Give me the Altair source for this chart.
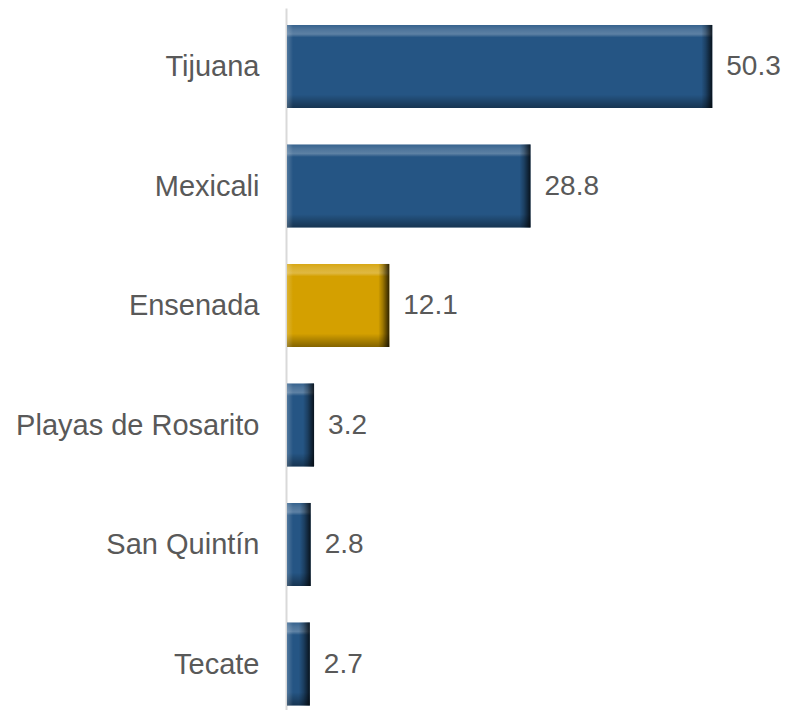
import altair as alt
import pandas as pd

cities = ["Tijuana", "Mexicali", "Ensenada", "Playas de Rosarito", "San Quintín", "Tecate"]
values = [50.3, 28.8, 12.1, 3.2, 2.8, 2.7]
highlight = "Ensenada"

df = pd.DataFrame({"city": cities, "value": values})

FONT = "Liberation Sans"
BLUE = "#255584"
GOLD = "#d4a000"

ysc = alt.Scale(domain=cities, paddingInner=0.305, paddingOuter=0.0897, align=0.79, round=False)
xsc = alt.Scale(domain=[0, 55], nice=False, zero=True)

y_axis = alt.Axis(title=None, labelFontSize=29, labelColor="#595959", labelFont=FONT,
                  ticks=False, domainColor="#d9d9d9", domainWidth=2, labelPadding=27,
                  grid=False, offset=1, labelLimit=400, labelOffset=1)

base = alt.Chart(df)

bars = base.mark_bar().encode(
    y=alt.Y("city:N", scale=ysc, sort=cities, axis=y_axis),
    x=alt.X("value:Q", scale=xsc, axis=None),
    fill=alt.condition(alt.datum.city == highlight, alt.value(GOLD), alt.value(BLUE)),
)

vgrad = {
    "gradient": "linear", "x1": 0, "x2": 0, "y1": 0, "y2": 1,
    "stops": [
        {"offset": 0.0, "color": "rgba(255,255,255,0.08)"},
        {"offset": 0.05, "color": "rgba(255,255,255,0.18)"},
        {"offset": 0.11, "color": "rgba(255,255,255,0.26)"},
        {"offset": 0.15, "color": "rgba(255,255,255,0.0)"},
        {"offset": 0.84, "color": "rgba(0,0,0,0.0)"},
        {"offset": 0.90, "color": "rgba(0,0,0,0.15)"},
        {"offset": 1.0, "color": "rgba(0,0,0,0.38)"},
    ],
}
vover = base.mark_bar(fill=vgrad).encode(
    y=alt.Y("city:N", scale=ysc, sort=cities),
    x=alt.X("value:Q", scale=xsc),
)

hgrad = {
    "gradient": "linear", "x1": 0, "x2": 1, "y1": 0, "y2": 0,
    "stops": [
        {"offset": 0.0, "color": "rgba(0,0,0,0.0)"},
        {"offset": 0.4, "color": "rgba(0,0,0,0.25)"},
        {"offset": 1.0, "color": "rgba(0,0,0,0.78)"},
    ],
}
rover = base.mark_bar(fill=hgrad, xOffset=-11).encode(
    y=alt.Y("city:N", scale=ysc, sort=cities),
    x=alt.X("value:Q", scale=xsc),
    x2="value:Q",
)

lgrad = {
    "gradient": "linear", "x1": 0, "x2": 1, "y1": 0, "y2": 0,
    "stops": [
        {"offset": 0.0, "color": "rgba(255,255,255,0.2)"},
        {"offset": 1.0, "color": "rgba(255,255,255,0.0)"},
    ],
}
lover = base.transform_calculate(zero="0").mark_bar(fill=lgrad, x2Offset=6).encode(
    y=alt.Y("city:N", scale=ysc, sort=cities),
    x=alt.X("zero:Q", scale=xsc),
    x2="zero:Q",
)

labels = base.mark_text(align="left", baseline="middle", dx=14, dy=1, fontSize=28,
                        font=FONT, color="#595959").encode(
    y=alt.Y("city:N", scale=ysc, sort=cities),
    x=alt.X("value:Q", scale=xsc),
    text=alt.Text("value:Q", format=".1f"),
)

chart = alt.layer(bars, vover, rover, lover, labels).properties(
    width=465, height=702,
    autosize=alt.AutoSizeParams(type="none"),
    padding={"left": 279, "top": 0, "right": 29, "bottom": 0},
).configure_view(stroke=None)

chart.save("out.html", embed_options={"renderer": "svg", "actions": False})
